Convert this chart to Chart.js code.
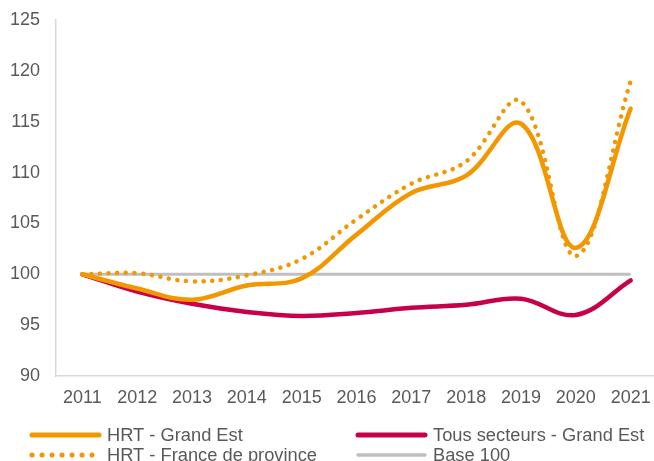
<!DOCTYPE html>
<html>
<head>
<meta charset="utf-8">
<script src="https://cdn.jsdelivr.net/npm/chart.js@4/dist/chart.umd.min.js"></script>
<style>
html,body{margin:0;padding:0;background:#fff;}
#wrap{width:654px;height:461px;position:relative;}
</style>
</head>
<body>
<div id="wrap"><canvas id="c" width="654" height="461"></canvas></div>
<script>
const years = [2011, 2012, 2013, 2014, 2015, 2016, 2017, 2018, 2019, 2020, 2021];
const hrtGrandEst = [100, 98.6, 97.5, 98.9, 99.6, 103.9, 108.0, 109.7, 114.8, 102.6, 116.3];
const tousSecteurs = [100, 98.3, 97.1, 96.3, 95.9, 96.2, 96.7, 97.0, 97.6, 96.0, 99.4];
const hrtFrance = [100, 100.1, 99.3, 99.9, 101.5, 105.4, 108.9, 111.1, 117.0, 101.8, 119.0];
const base100 = [100, 100, 100, 100, 100, 100, 100, 100, 100, 100, 100];
const yTicks = [90, 95, 100, 105, 110, 115, 120, 125];
const labels = ["HRT - Grand Est", "Tous secteurs - Grand Est", "HRT - France de province", "Base 100"];

const ORANGE = '#F39700';
const CRIMSON = '#C8004A';
const GREY = '#BFBFBF';
const TXT = '#595959';
const FONT = '"Liberation Sans", Arial, sans-serif';

const pts = arr => arr.map((v, i) => ({x: years[i], y: v}));

const legendPlugin = {
  id: 'customLegend',
  afterDraw(chart) {
    const ctx = chart.ctx;
    const items = [
      {ds: 0, x: 30, y: 435},
      {ds: 1, x: 356, y: 435},
      {ds: 2, x: 30, y: 455},
      {ds: 3, x: 356, y: 455}
    ];
    ctx.save();
    items.forEach(it => {
      const d = chart.data.datasets[it.ds];
      ctx.beginPath();
      ctx.strokeStyle = d.borderColor;
      ctx.lineWidth = d.legendWidth;
      ctx.lineCap = 'round';
      ctx.setLineDash(d.borderDash ? [0.1, 9.9] : []);
      ctx.moveTo(it.x + 2, it.y);
      ctx.lineTo(it.x + 69, it.y);
      ctx.stroke();
      ctx.setLineDash([]);
      ctx.fillStyle = TXT;
      ctx.font = '18.3px ' + FONT;
      ctx.textBaseline = 'middle';
      ctx.textAlign = 'left';
      ctx.fillText(d.label, it.x + 77, it.y + 1);
    });
    ctx.restore();
  }
};

new Chart(document.getElementById('c'), {
  type: 'line',
  data: {
    datasets: [
      {label: labels[0], data: pts(hrtGrandEst), borderColor: ORANGE, borderWidth: 4.5, legendWidth: 5, tension: 0.38, pointRadius: 0, order: 2, borderCapStyle: 'round'},
      {label: labels[1], data: pts(tousSecteurs), borderColor: CRIMSON, borderWidth: 4.5, legendWidth: 5, tension: 0.38, pointRadius: 0, order: 3, borderCapStyle: 'round'},
      {label: labels[2], data: pts(hrtFrance), borderColor: ORANGE, borderWidth: 4.5, legendWidth: 5, borderDash: [0.1, 8.6], borderCapStyle: 'round', tension: 0.38, pointRadius: 0, order: 1},
      {label: labels[3], data: pts(base100), borderColor: GREY, borderWidth: 3, legendWidth: 3.5, tension: 0, pointRadius: 0, order: 4}
    ]
  },
  options: {
    responsive: false,
    animation: false,
    devicePixelRatio: 1,
    layout: {padding: {top: 20, right: 0, bottom: 45, left: 0}},
    plugins: {legend: {display: false}, tooltip: {enabled: false}},
    scales: {
      x: {
        type: 'linear',
        min: 2010.52,
        max: 2021.425,
        afterBuildTicks: s => { s.ticks = years.map(v => ({value: v})); },
        afterFit: s => { s.height = 40; s.paddingLeft = 0; s.paddingRight = 0; },
        grid: {display: false, drawTicks: false},
        border: {display: true, color: '#D9D9D9', width: 1.5},
        ticks: {color: TXT, font: {family: FONT, size: 18}, padding: 11, maxRotation: 0, autoSkip: false, callback: v => String(v)}
      },
      y: {
        min: 90,
        max: 125,
        afterBuildTicks: s => { s.ticks = yTicks.map(v => ({value: v})); },
        afterFit: s => { s.width = 56; s.paddingTop = 0; s.paddingBottom = 0; },
        grid: {display: false, drawTicks: false},
        border: {display: true, color: '#D9D9D9', width: 1.5},
        ticks: {color: TXT, font: {family: FONT, size: 18}, padding: 16}
      }
    }
  },
  plugins: [legendPlugin]
});
</script>
</body>
</html>
